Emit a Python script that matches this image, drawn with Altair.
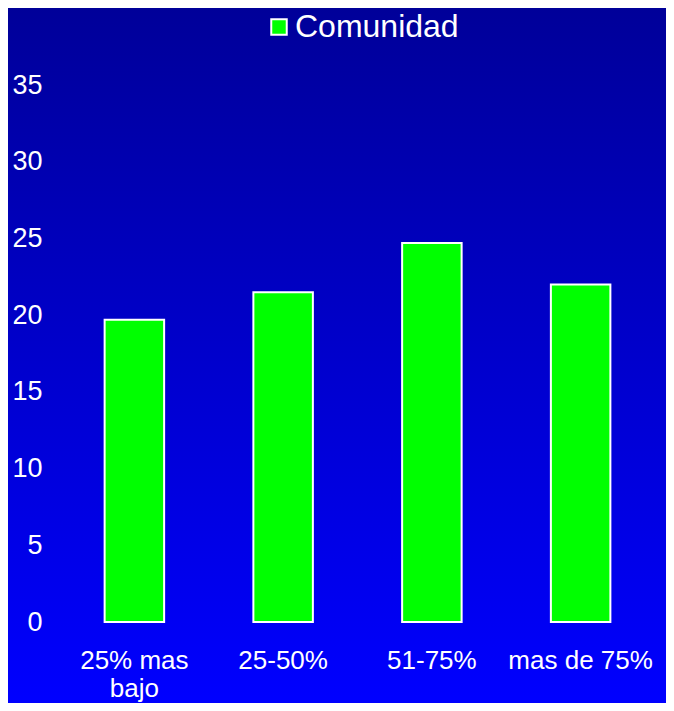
import altair as alt
import pandas as pd

categories = ["25% mas bajo", "25-50%", "51-75%", "mas de 75%"]
values = [19.7, 21.5, 24.7, 22.0]
series = ["Comunidad"] * 4
y_ticks = [0, 5, 10, 15, 20, 25, 30, 35]

df = pd.DataFrame({"cat": categories, "val": values, "series": series})

W, H = 595, 537
PAD = {"left": 52, "top": 77, "right": 11, "bottom": 81}
FONT = "Liberation Sans"

bg = alt.Chart(alt.Data(values=[{"a": 1}])).mark_rect(
    color=alt.Gradient(
        gradient="linear",
        stops=[alt.GradientStop(color="#000099", offset=0),
               alt.GradientStop(color="#0000ff", offset=1)],
        x1=0, x2=0, y1=0, y2=1,
    )
).encode(
    x=alt.value(-PAD["left"]), x2=alt.value(W + PAD["right"]),
    y=alt.value(-PAD["top"]), y2=alt.value(H + PAD["bottom"]),
)

bars = alt.Chart(df).mark_bar(stroke="white", strokeWidth=2).encode(
    x=alt.X("cat:N", sort=None, title=None,
            scale=alt.Scale(paddingInner=0.6, paddingOuter=0.3),
            axis=alt.Axis(labelAngle=0, labelColor="white", labelFont=FONT,
                          labelFontSize=26, labelPadding=25, ticks=False,
                          domain=False, labelLineHeight=28, zindex=2,
                          labelLimit=300,
                          labelExpr="datum.label == '25% mas bajo' ? ['25% mas', 'bajo'] : datum.label")),
    y=alt.Y("val:Q", title=None, scale=alt.Scale(domain=[0, 35], nice=False),
            axis=alt.Axis(values=y_ticks, labelColor="white", labelFont=FONT,
                          labelFontSize=27, labelPadding=18, ticks=False,
                          domain=False, grid=False, zindex=2)),
    color=alt.Color("series:N", scale=alt.Scale(range=["#00ff00"]),
                    legend=alt.Legend(title=None, orient="none", legendX=203, legendY=-74,
                                      padding=0, labelColor="white", labelFont=FONT,
                                      labelFontSize=32, labelOffset=0, labelLimit=400,
                                      symbolType="square", symbolSize=240,
                                      symbolStrokeColor="white", symbolStrokeWidth=2,
                                      symbolFillColor="#00ff00", zindex=2)),
)

chart = alt.layer(bg, bars).properties(
    width=W, height=H, padding=PAD,
    autosize=alt.AutoSizeParams(type="none"),
    background="#0000cc",
).configure_view(strokeWidth=0)

chart.save("out.html", embed_options={"renderer": "svg", "actions": False})
